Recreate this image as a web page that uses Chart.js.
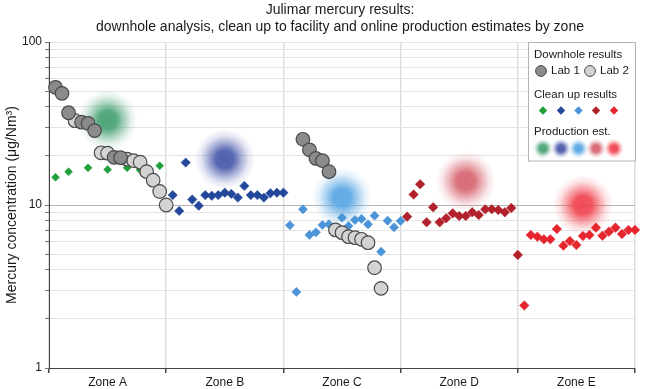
<!DOCTYPE html>
<html>
<head>
<meta charset="utf-8">
<script src="https://cdn.jsdelivr.net/npm/chart.js@4/dist/chart.umd.min.js"></script>
<style>
  html, body { margin: 0; padding: 0; background: #fff; }
  #wrap { width: 646px; height: 389px; position: relative; }
</style>
</head>
<body>
<div id="wrap"><canvas id="c" width="646" height="389"></canvas></div>
<script>
// ---------- data ----------
const zones = ['Zone A', 'Zone B', 'Zone C', 'Zone D', 'Zone E'];
const samplesPerZone = 18;
const yTickValues = [1, 2, 3, 4, 5, 6, 7, 8, 9, 10, 20, 30, 40, 50, 60, 70, 80, 90, 100];
const yLabelValues = [1, 10, 100];

const lab1Sample = [1, 2, 3, 5, 6, 7, 10, 11, 39, 40, 41, 42, 43];
const lab1Value  = [52.7, 48.4, 36.8, 32.2, 31.7, 28.6, 19.6, 19.5, 25.3, 21.8, 19.3, 18.7, 16.0];

const lab2Sample = [4, 8, 9, 12, 13, 14, 15, 16, 17, 18, 44, 45, 46, 47, 48, 49, 50, 51];
const lab2Value  = [32.9, 20.9, 20.8, 19.1, 18.7, 18.3, 16.0, 14.2, 12.1, 10.0, 7.03, 6.76, 6.39, 6.30, 6.16, 5.87, 4.12, 3.08];

const cleanASample = [1, 3, 6, 9, 12, 14, 17];
const cleanAValue  = [14.8, 16.0, 16.9, 16.5, 16.9, 16.4, 17.4];

const cleanBSample = [19, 20, 21, 22, 23, 24, 25, 26, 27, 28, 29, 30, 31, 32, 33, 34, 35, 36];
const cleanBValue  = [11.5, 9.2, 18.2, 10.8, 9.9, 11.5, 11.4, 11.5, 11.9, 11.7, 11.1, 13.1, 11.5, 11.5, 11.1, 11.8, 11.9, 11.9];

const cleanCSample = [37, 38, 39, 40, 41, 42, 43, 45, 46, 47, 48, 49, 50, 51, 52, 53, 54];
const cleanCValue  = [7.51, 2.93, 9.41, 6.55, 6.80, 7.54, 7.61, 8.36, 7.43, 8.09, 8.21, 7.61, 8.60, 5.17, 8.01, 7.30, 7.98];

const cleanDSample = [55, 56, 57, 58, 59, 60, 61, 62, 63, 64, 65, 66, 67, 68, 69, 70, 71, 72];
const cleanDValue  = [8.48, 11.6, 13.4, 7.83, 9.68, 7.83, 8.29, 8.89, 8.56, 8.56, 9.02, 8.68, 9.41, 9.41, 9.32, 9.02, 9.58, 4.94];

const cleanESample = [73, 74, 75, 76, 77, 78, 79, 80, 81, 82, 83, 84, 85, 86, 87, 88, 89, 90];
const cleanEValue  = [2.42, 6.55, 6.39, 6.16, 6.16, 7.12, 5.63, 6.01, 5.68, 6.45, 6.55, 7.26, 6.48, 6.86, 7.26, 6.64, 7.03, 7.03];

const prodSample = [9, 27, 45, 64, 82];
const prodValue  = [33.2, 19.1, 11.1, 14.0, 10.0];

// ---------- styles ----------
const FONT = '"Liberation Sans", Arial, Helvetica, sans-serif';
const cleanColors = ['#20a03c', '#23479a', '#4c94d8', '#b1202b', '#e6262f'];
const glowRGB = [[70, 160, 115], [72, 88, 170], [88, 165, 226], [214, 98, 110], [240, 66, 78]];

function pts(xs, ys) { return xs.map((x, i) => ({ x: x, y: ys[i] })); }

function makeGlow(rgb, size, core) {
  const c = document.createElement('canvas');
  c.width = size; c.height = size;
  const g = c.getContext('2d');
  const r = size / 2;
  const grad = g.createRadialGradient(r, r, 0, r, r, r);
  const s = 'rgba(' + rgb.join(',') + ',';
  grad.addColorStop(0, s + '0.95)');
  grad.addColorStop(core, s + '0.9)');
  grad.addColorStop(core + (1 - core) * 0.35, s + '0.5)');
  grad.addColorStop(core + (1 - core) * 0.7, s + '0.15)');
  grad.addColorStop(1, s + '0)');
  g.fillStyle = grad;
  g.fillRect(0, 0, size, size);
  return c;
}

const glowImgs = glowRGB.map(c => makeGlow(c, 60, 0.3));
const legendGlowImgs = glowRGB.map(c => makeGlow(c, 20, 0.35));

const datasets = [];
// production estimates (glows) - behind
prodSample.forEach((s, i) => {
  datasets.push({
    label: 'Production ' + zones[i],
    data: [{ x: s, y: prodValue[i] }],
    pointStyle: glowImgs[i],
    pointRadius: 10,
    order: 10
  });
});
// clean up results
[[cleanASample, cleanAValue, 4.0], [cleanBSample, cleanBValue, 4.7], [cleanCSample, cleanCValue, 4.6],
 [cleanDSample, cleanDValue, 4.8], [cleanESample, cleanEValue, 4.8]].forEach((d, i) => {
  datasets.push({
    label: 'Clean up ' + zones[i],
    data: pts(d[0], d[1]),
    pointStyle: 'rectRot',
    pointRadius: d[2],
    backgroundColor: cleanColors[i],
    borderColor: cleanColors[i],
    borderWidth: 0.5,
    order: 5
  });
});
// downhole results
datasets.push({
  label: 'Lab 2', data: pts(lab2Sample, lab2Value), pointStyle: 'circle', pointRadius: 6.8,
  backgroundColor: '#d3d3d3', borderColor: '#4a4a4a', borderWidth: 1.2, order: 2
});
datasets.push({
  label: 'Lab 1', data: pts(lab1Sample, lab1Value), pointStyle: 'circle', pointRadius: 6.8,
  backgroundColor: '#8b8b8b', borderColor: '#4a4a4a', borderWidth: 1.2, order: 1
});

const titlePlugin = {
  id: 'twoLineTitle',
  afterDraw(chart) {
    const ctx = chart.ctx;
    ctx.save();
    ctx.fillStyle = '#1a1a1a';
    ctx.font = '14px ' + FONT;
    ctx.textAlign = 'center';
    ctx.textBaseline = 'middle';
    ctx.fillText('Julimar mercury results:', 340, 10);
    ctx.fillText('downhole analysis, clean up to facility and online production estimates by zone', 340, 27);
    ctx.restore();
  }
};

const legendPlugin = {
  id: 'customLegend',
  afterDraw(chart) {
    const ctx = chart.ctx;
    ctx.save();
    const bx = 528.5, by = 42.5, bw = 107, bh = 118.5;
    ctx.fillStyle = '#ffffff';
    ctx.fillRect(bx, by, bw, bh);
    ctx.strokeStyle = '#b4b4b4';
    ctx.lineWidth = 1;
    ctx.strokeRect(bx, by, bw, bh);

    ctx.fillStyle = '#1a1a1a';
    ctx.font = '11.5px ' + FONT;
    ctx.textAlign = 'left';
    ctx.textBaseline = 'middle';
    ctx.fillText('Downhole results', 534, 55);
    ctx.fillText('Lab 1', 551, 71);
    ctx.fillText('Lab 2', 600, 71);
    ctx.fillText('Clean up results', 534, 95);
    ctx.fillText('Production est.', 534, 132);

    // circles
    [[541, '#8b8b8b'], [590, '#d3d3d3']].forEach(c => {
      ctx.beginPath();
      ctx.arc(c[0], 71, 5.4, 0, Math.PI * 2);
      ctx.fillStyle = c[1];
      ctx.fill();
      ctx.strokeStyle = '#4a4a4a';
      ctx.lineWidth = 1;
      ctx.stroke();
    });
    // diamonds & glows
    const xs = [543, 561, 578.5, 596, 614];
    xs.forEach((x, i) => {
      const r = 4.2, y = 110.5;
      ctx.beginPath();
      ctx.moveTo(x, y - r); ctx.lineTo(x + r, y); ctx.lineTo(x, y + r); ctx.lineTo(x - r, y);
      ctx.closePath();
      ctx.fillStyle = cleanColors[i];
      ctx.fill();
      const img = legendGlowImgs[i];
      ctx.drawImage(img, x - img.width / 2, 148.5 - img.height / 2);
    });
    ctx.restore();
  }
};

new Chart(document.getElementById('c'), {
  type: 'scatter',
  data: { datasets: datasets },
  options: {
    responsive: false,
    animation: false,
    events: [],
    clip: false,
    layout: { padding: { top: 42, right: 5, left: 0, bottom: 0 } },
    plugins: { legend: { display: false }, tooltip: { enabled: false }, title: { display: false } },
    scales: {
      x: {
        type: 'linear',
        min: 0,
        max: zones.length * samplesPerZone,
        afterBuildTicks(scale) {
          const t = [];
          for (let v = 0; v <= zones.length * samplesPerZone; v += samplesPerZone / 2) t.push({ value: v });
          scale.ticks = t;
        },
        afterFit(scale) { scale.height = 21; },
        ticks: {
          autoSkip: false, maxRotation: 0, padding: 2,
          color: '#1a1a1a',
          font: { family: FONT, size: 12 },
          callback(v) {
            const half = samplesPerZone / 2;
            if (v % samplesPerZone === half) return zones[(v - half) / samplesPerZone];
            return '';
          }
        },
        grid: {
          color: c => (c.tick && c.tick.value % samplesPerZone === 0) ? '#dddddd' : 'rgba(0,0,0,0)',
          lineWidth: 1.5,
          tickColor: c => (c.tick && c.tick.value % samplesPerZone === 0) ? '#444' : 'rgba(0,0,0,0)',
          tickLength: 5,
          drawTicks: true
        },
        border: { display: true, color: '#444', width: 1 }
      },
      y: {
        type: 'logarithmic',
        min: 1,
        max: 100,
        afterBuildTicks(scale) { scale.ticks = yTickValues.map(v => ({ value: v })); },
        afterFit(scale) { scale.width = 49; },
        ticks: {
          autoSkip: false, padding: 3,
          color: '#1a1a1a',
          font: { family: FONT, size: 12 },
          callback(v) { return yLabelValues.includes(v) ? String(v) : ''; }
        },
        grid: {
          color: c => (c.tick && c.tick.value === 10) ? '#b5b5b5' : '#e4e4e4',
          lineWidth: 1,
          tickColor: '#777',
          tickLength: 4
        },
        border: { display: true, color: '#444', width: 1 },
        title: {
          display: true,
          text: 'Mercury concentration (μg/Nm³)',
          color: '#1a1a1a',
          font: { family: FONT, size: 14 },
          padding: { top: 4, bottom: 4 }
        }
      }
    }
  },
  plugins: [titlePlugin, legendPlugin]
});
</script>
</body>
</html>
